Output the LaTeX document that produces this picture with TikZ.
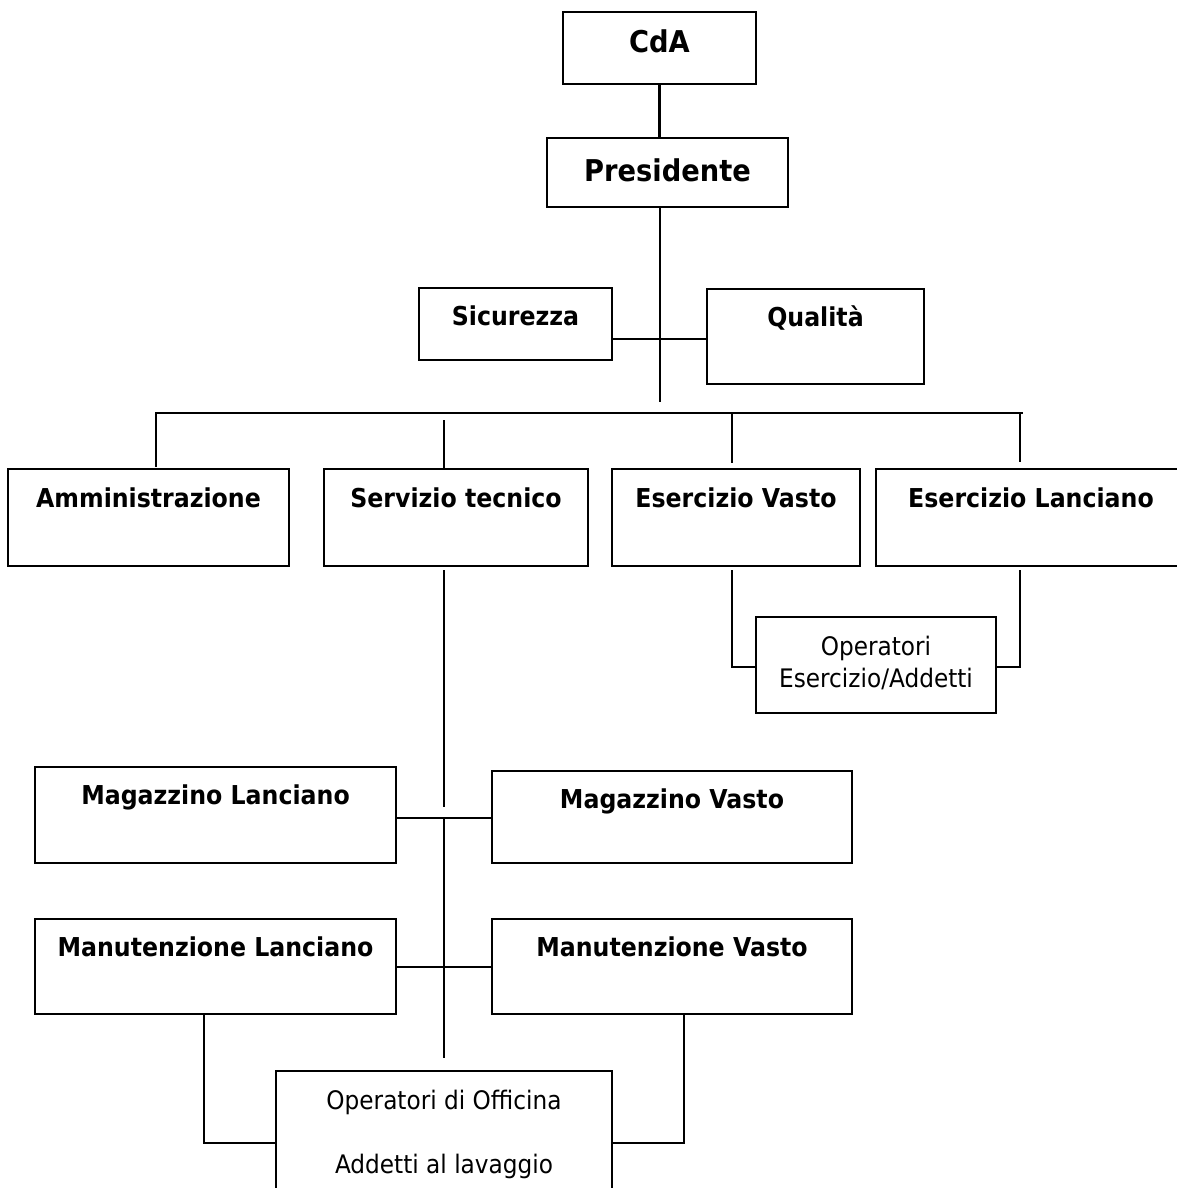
\documentclass[tikz,border=0pt]{standalone}
\usepackage{fontspec}
\setmainfont{DejaVu Sans}[FakeStretch=0.91]
\begin{document}
\begin{tikzpicture}[x=1pt,y=-1pt,
  box/.style={draw, rectangle, line width=2.2pt, inner sep=0pt, outer sep=0pt},
  conn/.style={line width=2.2pt},
  big/.style={anchor=base, inner sep=0pt, font=\fontsize{30}{34}\selectfont\bfseries},
  ttl/.style={anchor=base, inner sep=0pt, font=\fontsize{26}{30}\selectfont\bfseries},
  txt/.style={anchor=base, inner sep=0pt, font=\fontsize{25.5}{32}\selectfont}]
\useasboundingbox (0,0) rectangle (1177,1188);
\clip (0,0) rectangle (1177,1188);
\fill[white] (0,0) rectangle (1177,1188);

% boxes
\node[box, minimum width=193pt, minimum height=72pt] (cda) at (659.5,48) {};
\node[box, minimum width=241pt, minimum height=69pt] (pres) at (667.5,172.5) {};
\node[box, minimum width=193pt, minimum height=72pt] (sic) at (515.5,324) {};
\node[box, minimum width=217pt, minimum height=95pt] (qual) at (815.5,336.5) {};
\node[box, minimum width=281pt, minimum height=97pt] (amm) at (148.5,517.5) {};
\node[box, minimum width=264pt, minimum height=97pt] (serv) at (456,517.5) {};
\node[box, minimum width=248pt, minimum height=97pt] (ev) at (736,517.5) {};
\node[box, minimum width=310pt, minimum height=97pt] (el) at (1031,517.5) {};
\node[box, minimum width=240pt, minimum height=96pt] (opes) at (876,665) {};
\node[box, minimum width=361pt, minimum height=96pt] (magl) at (215.5,815) {};
\node[box, minimum width=360pt, minimum height=92pt] (magv) at (672,817) {};
\node[box, minimum width=361pt, minimum height=95pt] (manl) at (215.5,966.5) {};
\node[box, minimum width=360pt, minimum height=95pt] (manv) at (672,966.5) {};
\node[box, minimum width=336pt, minimum height=160pt] (opoff) at (444,1151) {};

% texts
\node[big] (cda-t) at ([yshift=-41pt]cda.north) {CdA};
\node[big] (pres-t) at ([yshift=-43pt]pres.north) {Presidente};
\node[ttl] (sic-t) at ([yshift=-37pt]sic.north) {Sicurezza};
\node[ttl] (qual-t) at ([yshift=-37pt]qual.north) {Qualità};
\node[ttl] (amm-t) at ([yshift=-38pt]amm.north) {Amministrazione};
\node[ttl] (serv-t) at ([yshift=-38pt]serv.north) {Servizio tecnico};
\node[ttl] (ev-t) at ([yshift=-38pt]ev.north) {Esercizio Vasto};
\node[ttl] (el-t) at ([yshift=-38pt]el.north) {Esercizio Lanciano};
\node[txt] (opes-t1) at ([yshift=-38pt]opes.north) {Operatori};
\node[txt] (opes-t2) at ([yshift=-70pt]opes.north) {Esercizio/Addetti};
\node[ttl] (magl-t) at ([yshift=-37pt]magl.north) {Magazzino Lanciano};
\node[ttl] (magv-t) at ([yshift=-37pt]magv.north) {Magazzino Vasto};
\node[ttl] (manl-t) at ([yshift=-37pt]manl.north) {Manutenzione Lanciano};
\node[ttl] (manv-t) at ([yshift=-37pt]manv.north) {Manutenzione Vasto};
\node[txt] (opoff-t1) at ([yshift=-38pt]opoff.north) {Operatori di Officina};
\node[txt] (opoff-t2) at ([yshift=-102pt]opoff.north) {Addetti al lavaggio};

% connector coordinates
\coordinate (pb) at (660,402);
\coordinate (sq) at (660,339);
\coordinate (busL) at (155,413);
\coordinate (busR) at (1023,413);
\coordinate (s1) at (156,413);
\coordinate (s2) at (444,420);
\coordinate (s3) at (732,413);
\coordinate (s4) at (1020,413);
\coordinate (v1) at (444,807);
\coordinate (v2t) at (444,818);
\coordinate (v2b) at (444,1058);
\coordinate (mh) at (444,967);
\coordinate (e1) at (732,667);
\coordinate (e2) at (1020,667);
\coordinate (m1) at (204,1143);
\coordinate (m2) at (684,1143);

% connectors
\draw[conn] (cda.south) -- (cda.south |- pres.north);
\draw[conn] (pres.south -| pb) -- (pb);
\draw[conn] (sic.east |- sq) -- (qual.west |- sq);
\draw[conn] (busL) -- (busR);
\draw[conn] (s1) -- ([yshift=2pt]s1 |- amm.north);
\draw[conn] (s2) -- (s2 |- serv.north);
\draw[conn] (s3) -- ([yshift=6pt]s3 |- ev.north);
\draw[conn] (s4) -- ([yshift=7pt]s4 |- el.north);
\draw[conn] ([yshift=-4pt]serv.south -| v1) -- (v1);
\draw[conn] (v2t) -- (v2b);
\draw[conn] (magl.east |- v2t) -- (magv.west |- v2t);
\draw[conn] (manl.east |- mh) -- (manv.west |- mh);
\draw[conn] ([yshift=-4pt]ev.south -| e1) -- (e1) -- (opes.west |- e1);
\draw[conn] ([yshift=-4pt]el.south -| e2) -- (e2) -- (opes.east |- e2);
\draw[conn] (manl.south -| m1) -- (m1) -- (opoff.west |- m1);
\draw[conn] (manv.south -| m2) -- (m2) -- (opoff.east |- m2);
\end{tikzpicture}
\end{document}
